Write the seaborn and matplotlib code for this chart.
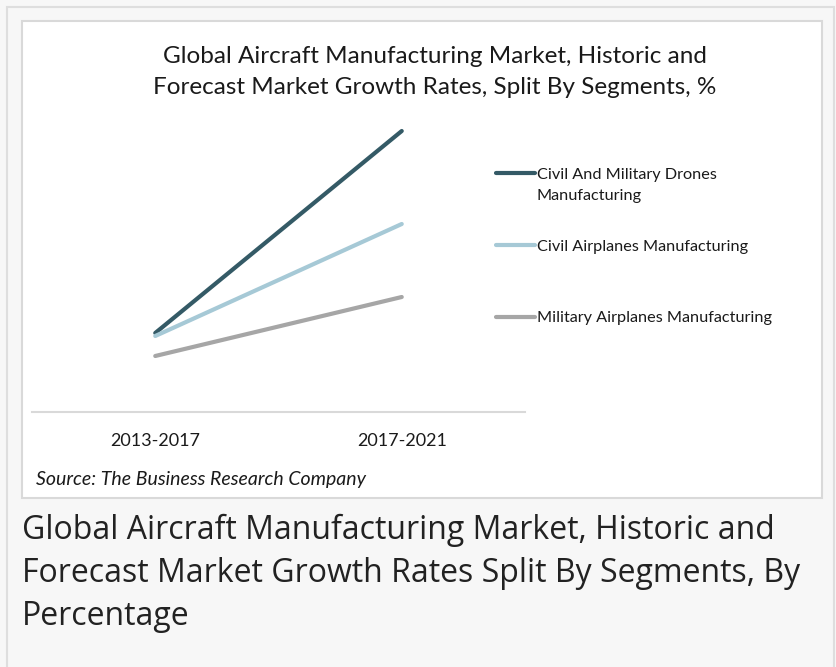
import numpy as np
import pandas as pd
import matplotlib
matplotlib.use("Agg")
import matplotlib.pyplot as plt
from matplotlib.patches import Rectangle
import seaborn as sns

periods = ["2013-2017", "2017-2021"]
segments = ["Civil And Military Drones\nManufacturing",
            "Civil Airplanes Manufacturing",
            "Military Airplanes Manufacturing"]
drones = [3.95, 14.05]
civil = [3.8, 9.4]
military = [2.8, 5.75]
colors = ["#345a66", "#a6c9d6", "#a6a6a6"]

df = pd.DataFrame({
    "period": periods * 3,
    "segment": np.repeat(segments, 2),
    "growth": drones + civil + military,
})

sns.set_theme(style="white")
plt.rcParams["font.family"] = ["Lato", "DejaVu Sans"]

W, H = 836, 667
fig = plt.figure(figsize=(W / 100, H / 100), dpi=100, facecolor="#f7f7f7")

# page frame and white chart panel
fig.patches.append(Rectangle((7 / W, -0.05), 827 / W, 1 - 7 / H + 0.05,
                             transform=fig.transFigure, facecolor="#f7f7f7",
                             edgecolor="#dedede", lw=1.5, zorder=-2))
fig.patches.append(Rectangle((22 / W, 1 - 498 / H), 800 / W, 477 / H,
                             transform=fig.transFigure, facecolor="white",
                             edgecolor="#d9d9d9", lw=1.5, zorder=-1))

ax = fig.add_axes([32 / W, 1 - 412 / H, 493 / W, 312 / H])
ax.set_zorder(2)
ax.patch.set_alpha(0)
sns.lineplot(data=df, x="period", y="growth", hue="segment", hue_order=segments,
             palette=dict(zip(segments, colors)), lw=3, sort=False,
             solid_capstyle="round", ax=ax)

ax.set_xlim(-0.5, 1.5)
ax.set_ylim(0, 15.6)
ax.set_xlabel("")
ax.set_ylabel("")
ax.set_yticks([])
for s in ["top", "right", "left"]:
    ax.spines[s].set_visible(False)
ax.spines["bottom"].set_color("#d9d9d9")
ax.spines["bottom"].set_linewidth(1.5)
ax.tick_params(axis="x", length=0, pad=15, labelsize=13, labelcolor="#1a1a1a")

# legend: handle sits on the first line of a wrapped label, so wrap by hand
handles, labels = ax.get_legend_handles_labels()
first_lines = [l.split("\n")[0] for l in labels]
leg = ax.legend(handles, first_lines, loc="upper left",
                bbox_to_anchor=(457 / 493, 1 - (161 - 100) / 312),
                frameon=False, fontsize=11.7, handlelength=2.4, handletextpad=0.15,
                labelspacing=3.53, borderaxespad=0)
for line in leg.get_lines():
    line.set_linewidth(3)
for t in leg.get_texts():
    t.set_color("#1a1a1a")

fig.canvas.draw()
for t, l in zip(leg.get_texts(), labels):
    rest = l.split("\n")[1:]
    if rest:
        bb = t.get_window_extent()
        fig.text(bb.x0 / W, (bb.y0 - 21) / H, "\n".join(rest), ha="left", va="bottom",
                 fontsize=11.7, color="#1a1a1a")

fig.text(435 / W, 1 - 72 / H,
         "Global Aircraft Manufacturing Market, Historic and\n"
         "Forecast Market Growth Rates, Split By Segments, %",
         ha="center", va="center", fontsize=17.5, color="#1a1a1a", linespacing=1.6)
fig.text(36 / W, 1 - 479 / H, "Source: The Business Research Company",
         ha="left", va="center", fontsize=14, style="italic", color="#1a1a1a")
fig.text(22 / W, 1 - 514 / H,
         "Global Aircraft Manufacturing Market, Historic and\n"
         "Forecast Market Growth Rates Split By Segments, By\n"
         "Percentage",
         ha="left", va="top", fontsize=23, color="#222222", linespacing=1.4,
         family=["Open Sans", "DejaVu Sans"])

fig.savefig("out.png", dpi=100, facecolor=fig.get_facecolor())
